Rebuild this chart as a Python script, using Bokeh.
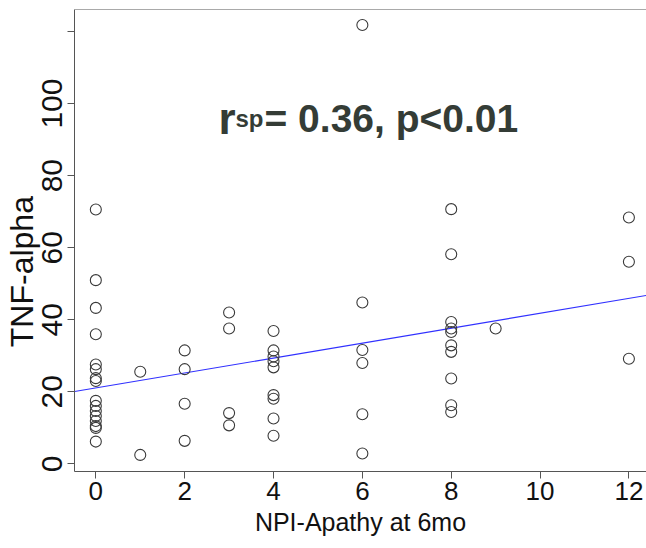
import math
from bokeh.plotting import figure
from bokeh.models import Label, FixedTicker, Range1d, ColumnDataSource, Span
from bokeh.embed import file_html
from bokeh.resources import INLINE

# ---- data ----
apathy_score = [0, 0, 0, 0, 0, 0, 0, 0, 0, 0, 0, 0, 0, 0, 0, 0,
                1, 1,
                2, 2, 2, 2,
                3, 3, 3, 3,
                4, 4, 4, 4, 4, 4, 4, 4, 4,
                6, 6, 6, 6, 6, 6,
                8, 8, 8, 8, 8, 8, 8, 8, 8, 8,
                9,
                12, 12, 12]
tnf_alpha = [70.6, 51.0, 43.3, 36.0, 27.6, 26.3, 23.8, 23.0, 17.5, 16.1, 14.7, 13.3, 11.9, 10.5, 10.0, 6.2,
             25.6, 2.5,
             31.5, 26.3, 16.7, 6.4,
             42.0, 37.6, 14.1, 10.7,
             36.9, 31.5, 29.8, 28.5, 26.8, 19.1, 18.1, 12.6, 7.8,
             121.8, 44.8, 31.6, 28.0, 13.8, 2.9,
             70.7, 58.2, 39.4, 37.6, 36.6, 32.9, 31.1, 23.7, 16.3, 14.4,
             37.6,
             68.4, 56.1, 29.2]
fit_intercept = 21.1
fit_slope = 2.07
x_ticks = [0, 2, 4, 6, 8, 10, 12]
y_ticks = [0, 20, 40, 60, 80, 100, 120]
x_title = "NPI-Apathy at 6mo"
y_title = "TNF-alpha"
stat_r = "r"
stat_sub = "sp"
stat_rest = "= 0.36, p<0.01"

AX = "#555555"
FONT = "Liberation Sans"

x_range = Range1d(-0.48, 12.396)
y_range = Range1d(-2.1, 126.1)

p = figure(width=646, height=548, x_range=x_range, y_range=y_range,
           output_backend="svg", toolbar_location=None,
           min_border_left=73, min_border_right=0, min_border_top=9, min_border_bottom=77)
p.outline_line_color = None
p.grid.visible = False
p.background_fill_color = "white"

# axes
for ax in (p.xaxis[0], p.yaxis[0]):
    ax.axis_line_color = AX
    ax.axis_line_width = 1
    ax.major_tick_line_color = AX
    ax.major_tick_out = 7
    ax.major_tick_in = 0
    ax.minor_tick_line_color = None
    ax.major_label_text_color = "#111111"
    ax.major_label_text_font = FONT
    ax.axis_label_text_font = FONT
    ax.axis_label_text_font_style = "normal"
    ax.axis_label_text_color = "#111111"

p.xaxis.ticker = FixedTicker(ticks=x_ticks)
p.xaxis.major_label_text_font_size = "26px"
p.xaxis.major_label_standoff = 3
p.xaxis.axis_label = x_title
p.xaxis.axis_label_text_font_size = "25px"
p.xaxis.axis_label_standoff = 5

p.yaxis.ticker = FixedTicker(ticks=y_ticks)
p.yaxis.major_label_overrides = {120: ""}
p.yaxis.major_label_orientation = "vertical"
p.yaxis.major_label_text_font_size = "30px"
p.yaxis.major_label_standoff = 5
# trailing no-break spaces move the title down to where the reference has it
p.yaxis.axis_label = y_title + "\u00a0" * 7
p.yaxis.axis_label_text_font_size = "32px"
p.yaxis.axis_label_standoff = 0

# top edge of the box
p.add_layout(Span(location=y_range.end, dimension="width", line_color=AX, line_width=1))

# regression line
xs = [x_range.start, x_range.end]
ys = [fit_intercept + fit_slope * v for v in xs]
p.line(xs, ys, line_color="#3030ff", line_width=1.2)

# points
src = ColumnDataSource(dict(x=apathy_score, y=tnf_alpha))
p.scatter("x", "y", source=src, marker="circle", size=11, fill_color=None,
          line_color="#3a3a3a", line_width=1.1)

# statistics annotation (screen units are relative to the plot frame)
STAT = "#343c36"
p.add_layout(Label(x=144, y=353, x_units="screen", y_units="screen", text=stat_r,
                   text_font=FONT, text_font_style="bold", text_font_size="44px",
                   text_baseline="alphabetic", text_color=STAT))
p.add_layout(Label(x=161, y=353, x_units="screen", y_units="screen", text=stat_sub,
                   text_font=FONT, text_font_style="bold", text_font_size="24px",
                   text_baseline="alphabetic", text_color=STAT))
p.add_layout(Label(x=190, y=353, x_units="screen", y_units="screen", text=stat_rest,
                   text_font=FONT, text_font_style="bold", text_font_size="39px",
                   text_baseline="alphabetic", text_color=STAT))

open("out.html", "w").write(file_html(p, INLINE))
